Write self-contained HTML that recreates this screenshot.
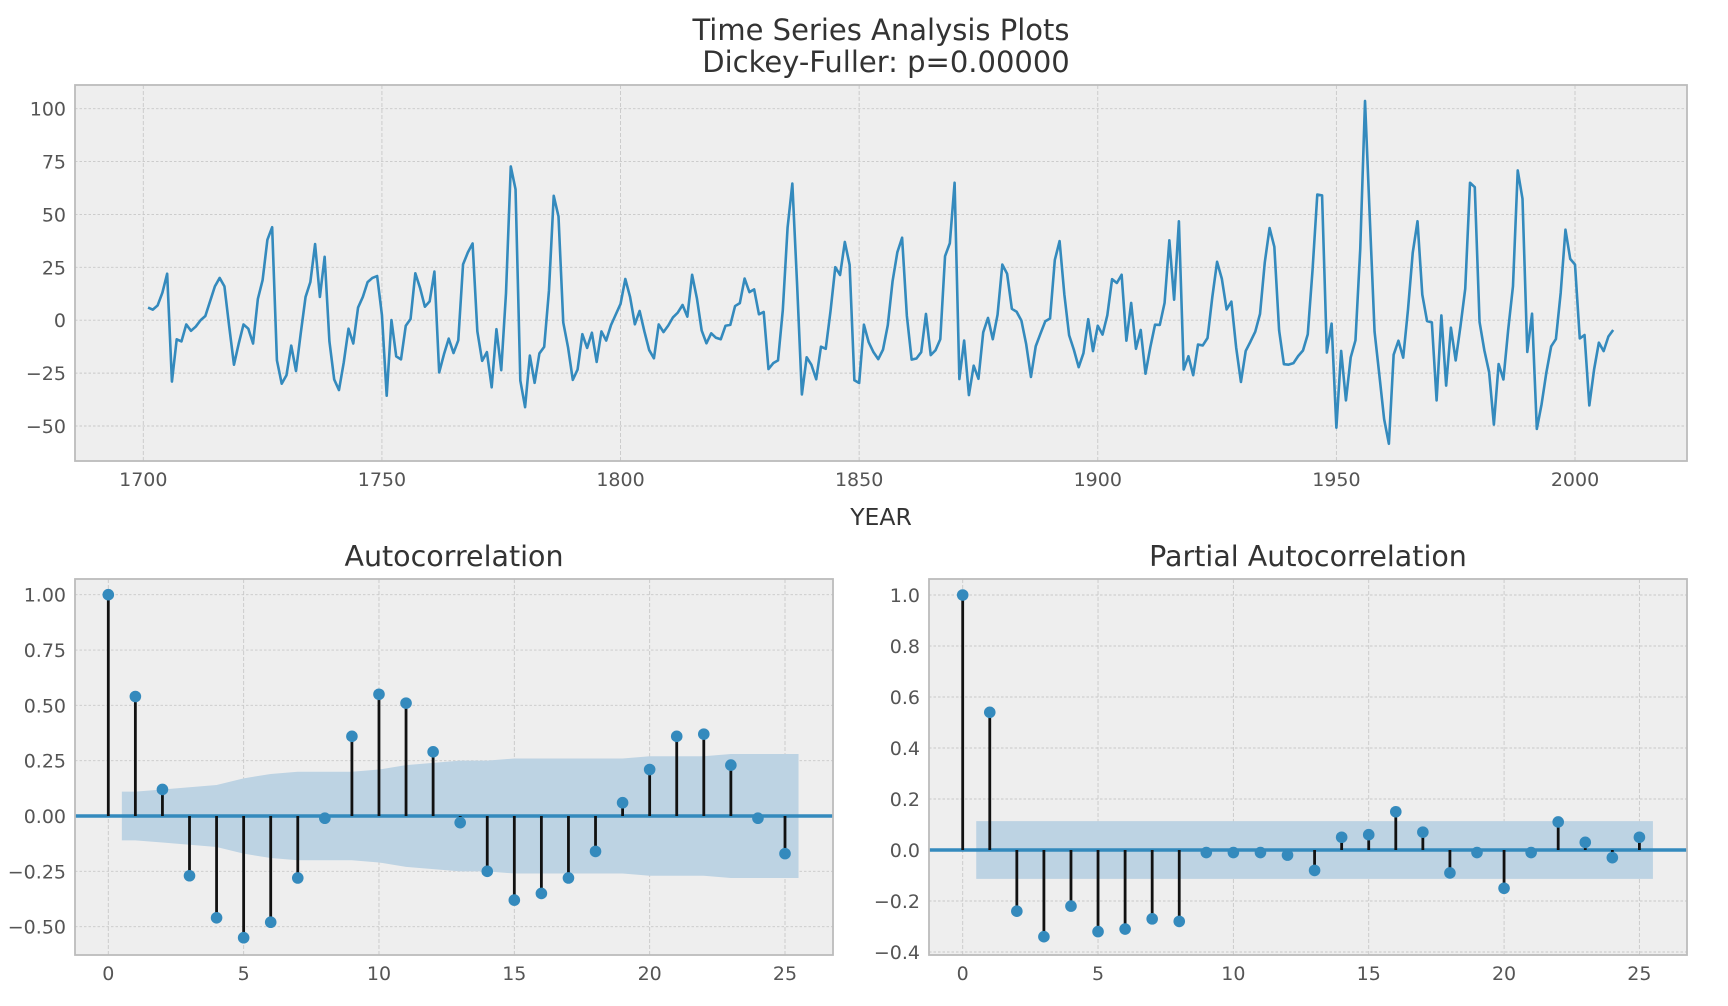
<!DOCTYPE html>
<html><head><meta charset="utf-8"><style>
html,body{margin:0;padding:0;background:#fff;}
svg{display:block;font-family:"DejaVu Sans","Liberation Sans",sans-serif;}
</style></head><body>
<svg id="fig" width="1728" height="1006" viewBox="0 0 1728 1006" xmlns="http://www.w3.org/2000/svg">
<text x="881" y="40" text-anchor="middle" font-size="29" fill="#333">Time Series Analysis Plots</text>
<text x="886" y="72" text-anchor="middle" font-size="29" fill="#333">Dickey-Fuller: p=0.00000</text>
<g id="ts"></g><g id="acf"></g><g id="pacf"></g>
</svg>
<script>
const years = [];
for (let y = 1701; y <= 2008; y++) years.push(y);
const diffValues = [6,5,7,13,22,-29,-9,-10,-2,-5,-3,0,2,9,16,20,16,-3,-21,-11,-2,-4,-11,10,19,38,44,-19,-30,-26,-12,-24,-6,11,18,36,11,30,-10,-28,-33,-20,-4,-11,6,11,18,20,20.9,2.5,-35.7,0.1,-17.1,-18.5,-2.6,0.6,22.2,15.2,6.4,8.9,23,-24.7,-16.1,-8.7,-15.5,-9.5,26.4,32,36.3,-5.3,-19.2,-15.1,-31.7,-4.2,-23.6,12.8,72.7,61.9,-28.5,-41.1,-16.7,-29.6,-15.7,-12.6,13.9,58.8,49.1,-1.1,-12.8,-28.2,-23.3,-6.6,-13.1,-5.9,-19.7,-5.3,-9.6,-2.3,2.7,7.7,19.5,11,-1.9,4.4,-5.3,-14.1,-18,-2,-5.6,-2.5,1.4,3.6,7.2,1.7,21.5,10.4,-4.8,-10.9,-6.2,-8.3,-9,-2.6,-2.2,6.7,8.1,19.7,13.3,14.6,2.8,3.9,-23.1,-20.3,-19,4.7,43.7,64.6,16.8,-35.1,-17.5,-21.1,-27.9,-12.5,-13.5,4.3,25.1,21.4,37,26.2,-28.4,-29.7,-2.1,-10.4,-15.1,-18.4,-13.9,-2.4,18.4,32.1,39,2,-18.6,-18.1,-15.1,3,-16.5,-14.2,-9,30.3,36.4,65,-27.8,-9.6,-35.4,-21.5,-27.7,-5.7,1.1,-9,2.6,26.3,22,5.4,4,-0.2,-11.3,-26.8,-12.3,-6.3,-0.5,0.8,28.5,37.4,12.1,-7.1,-14,-22.2,-15.6,0.5,-14.6,-2.6,-6.8,2.3,19.4,17.6,21.5,-9.7,8.2,-13.5,-4.6,-25.3,-12.9,-2.1,-2.2,8.2,37.8,9.7,46.8,-23.3,-17,-26,-11.5,-11.9,-8.4,10.9,27.6,19.6,5.1,8.8,-12.9,-29.2,-14.5,-10.1,-5.4,3,27.4,43.6,34.7,-4.8,-20.8,-21,-20.3,-16.9,-14.3,-6.7,23.6,59.4,59,-15.3,-1.6,-50.8,-14.5,-37.9,-17.6,-9.5,33.6,103.7,48.5,-5.4,-25.8,-46.7,-58.4,-16.3,-9.7,-17.7,4.9,31.9,46.8,12.1,-0.4,-1,-37.9,2.3,-30.9,-3.5,-19,-2.9,14.9,65,62.9,-0.8,-14.2,-24.5,-49.3,-20.7,-28,-4.5,16,70.8,57.4,-15,3.1,-51.4,-39.7,-24.7,-12.4,-8.9,12.9,42.8,29,26.3,-8.6,-7,-40.3,-23.3,-10.6,-14.6,-7.7,-4.6];
const tsXTicks = [1700,1750,1800,1850,1900,1950,2000];
const tsYTicks = [-50,-25,0,25,50,75,100];
const lags = [];
for (let i = 0; i <= 25; i++) lags.push(i);
const acfValues = [1,0.54,0.12,-0.27,-0.46,-0.55,-0.48,-0.28,-0.01,0.36,0.55,0.51,0.29,-0.03,-0.25,-0.38,-0.35,-0.28,-0.16,0.06,0.21,0.36,0.37,0.23,-0.01,-0.17];
const acfConf = [0.11,0.11,0.12,0.13,0.14,0.17,0.19,0.20,0.20,0.20,0.21,0.23,0.24,0.25,0.25,0.26,0.26,0.26,0.26,0.26,0.27,0.27,0.27,0.28,0.28,0.28];
const acfYTicks = [-0.5,-0.25,0,0.25,0.5,0.75,1.0];
const acfYLabels = ["\u22120.50","\u22120.25","0.00","0.25","0.50","0.75","1.00"];
const pacfValues = [1,0.54,-0.24,-0.34,-0.22,-0.32,-0.31,-0.27,-0.28,-0.01,-0.01,-0.01,-0.02,-0.08,0.05,0.06,0.15,0.07,-0.09,-0.01,-0.15,-0.01,0.11,0.03,-0.03,0.05];
const pacfConf = 0.113;
const pacfYTicks = [-0.4,-0.2,0,0.2,0.4,0.6,0.8,1.0];
const pacfYLabels = ["\u22120.4","\u22120.2","0.0","0.2","0.4","0.6","0.8","1.0"];
const lagTicks = [0,5,10,15,20,25];

const NS = "http://www.w3.org/2000/svg";
function mk(parent, tag, attrs) {
  const e = document.createElementNS(NS, tag);
  for (const k in attrs) e.setAttribute(k, attrs[k]);
  parent.appendChild(e);
  return e;
}
function lin(d0, d1, r0, r1) { return v => r0 + (v - d0) * (r1 - r0) / (d1 - d0); }

function frame(g, L, R, T, B, xs, ys, xt, yt, ytl, name) {
  const bg = mk(g, 'rect', {x:L, y:T, width:R-L, height:B-T, fill:'#eeeeee'});
  
  
  xt.forEach(v => {
    const gl = mk(g, 'line', {x1:xs(v), x2:xs(v), y1:T, y2:B, stroke:'#c8c8c8', 'stroke-width':0.9, 'stroke-dasharray':'4,2'});
    
    
    const t = mk(g, 'text', {x:xs(v), y:B+25, 'text-anchor':'middle', 'font-size':19, fill:'#555'});
    t.textContent = String(v);
    
    
  });
  yt.forEach((v, i) => {
    const gl = mk(g, 'line', {x1:L, x2:R, y1:ys(v), y2:ys(v), stroke:'#c8c8c8', 'stroke-width':0.9, 'stroke-dasharray':'2.5,2'});
    
    
    const t = mk(g, 'text', {x:L-9, y:ys(v)+7, 'text-anchor':'end', 'font-size':19, fill:'#555'});
    t.textContent = ytl ? ytl[i] : (v < 0 ? '\u2212' + (-v) : String(v));
    
    
  });
}
function border(g, L, R, T, B, name) {
  const b = mk(g, 'rect', {x:L, y:T, width:R-L, height:B-T, fill:'none', stroke:'#bcbcbc', 'stroke-width':1.8});
  
  
}

(function(){
  const g = document.getElementById('ts');
  
  
  const L=75,R=1687,T=85,B=461;
  const xs = lin(1700, 2000, 143.3, 1575), ys = lin(-50, 100, 426, 108.7);
  frame(g, L, R, T, B, xs, ys, tsXTicks, tsYTicks, null, 'time-series');
  let d = '';
  years.forEach((y, i) => { d += (i ? 'L' : 'M') + xs(y).toFixed(2) + ',' + ys(diffValues[i]).toFixed(2); });
  const p = mk(g, 'path', {d:d, fill:'none', stroke:'#348ABD', 'stroke-width':2.6, 'stroke-linejoin':'round'});
  
  
  border(g, L, R, T, B, 'time-series');
  const xl = mk(g, 'text', {x:881, y:525, 'text-anchor':'middle', 'font-size':23.5, fill:'#333'});
  xl.textContent = 'YEAR';
  
  
})();

function corrPanel(gid, name, title, L, R, xs, ys, vals, confFn, yt, ytl) {
  const T=579,B=955;
  const g = document.getElementById(gid);
  
  
  frame(g, L, R, T, B, xs, ys, lagTicks, yt, ytl, name);
  let up = '', dn = '';
  const pts = [];
  for (let i = 0; i < lags.length; i++) pts.push([lags[i] < 0.5 ? 0.5 : lags[i], confFn(i)]);
  pts.push([25.5, confFn(lags.length - 1)]);
  pts.forEach((p, i) => { up += (i ? 'L' : 'M') + xs(p[0]).toFixed(2) + ',' + ys(p[1]).toFixed(2); });
  for (let i = pts.length - 1; i >= 0; i--) dn += 'L' + xs(pts[i][0]).toFixed(2) + ',' + ys(-pts[i][1]).toFixed(2);
  const band = mk(g, 'path', {d: up + dn + 'Z', fill:'#bdd3e3'});
  
  
  const zl = mk(g, 'line', {x1:L, x2:R, y1:ys(0), y2:ys(0), stroke:'#348ABD', 'stroke-width':3.4});
  
  
  lags.forEach((lag, i) => {
    const s = mk(g, 'line', {x1:xs(lag), x2:xs(lag), y1:ys(0), y2:ys(vals[i]), stroke:'#111', 'stroke-width':2.8});
    
    
    const c = mk(g, 'circle', {cx:xs(lag), cy:ys(vals[i]), r:5.8, fill:'#348ABD'});
    
    
  });
  border(g, L, R, T, B, name);
  const t = mk(g, 'text', {x:(L+R)/2, y:566, 'text-anchor':'middle', 'font-size':28.5, fill:'#333'});
  t.textContent = title;
  
  
}
corrPanel('acf', 'acf', 'Autocorrelation', 75, 833, lin(0, 25, 108.3, 785), lin(0, 1, 816, 594.7), acfValues, i => acfConf[i], acfYTicks, acfYLabels);
corrPanel('pacf', 'pacf', 'Partial Autocorrelation', 929, 1687, lin(0, 25, 962.7, 1639.4), lin(0, 1, 850, 595), pacfValues, i => pacfConf, pacfYTicks, pacfYLabels);
</script>
</body></html>
